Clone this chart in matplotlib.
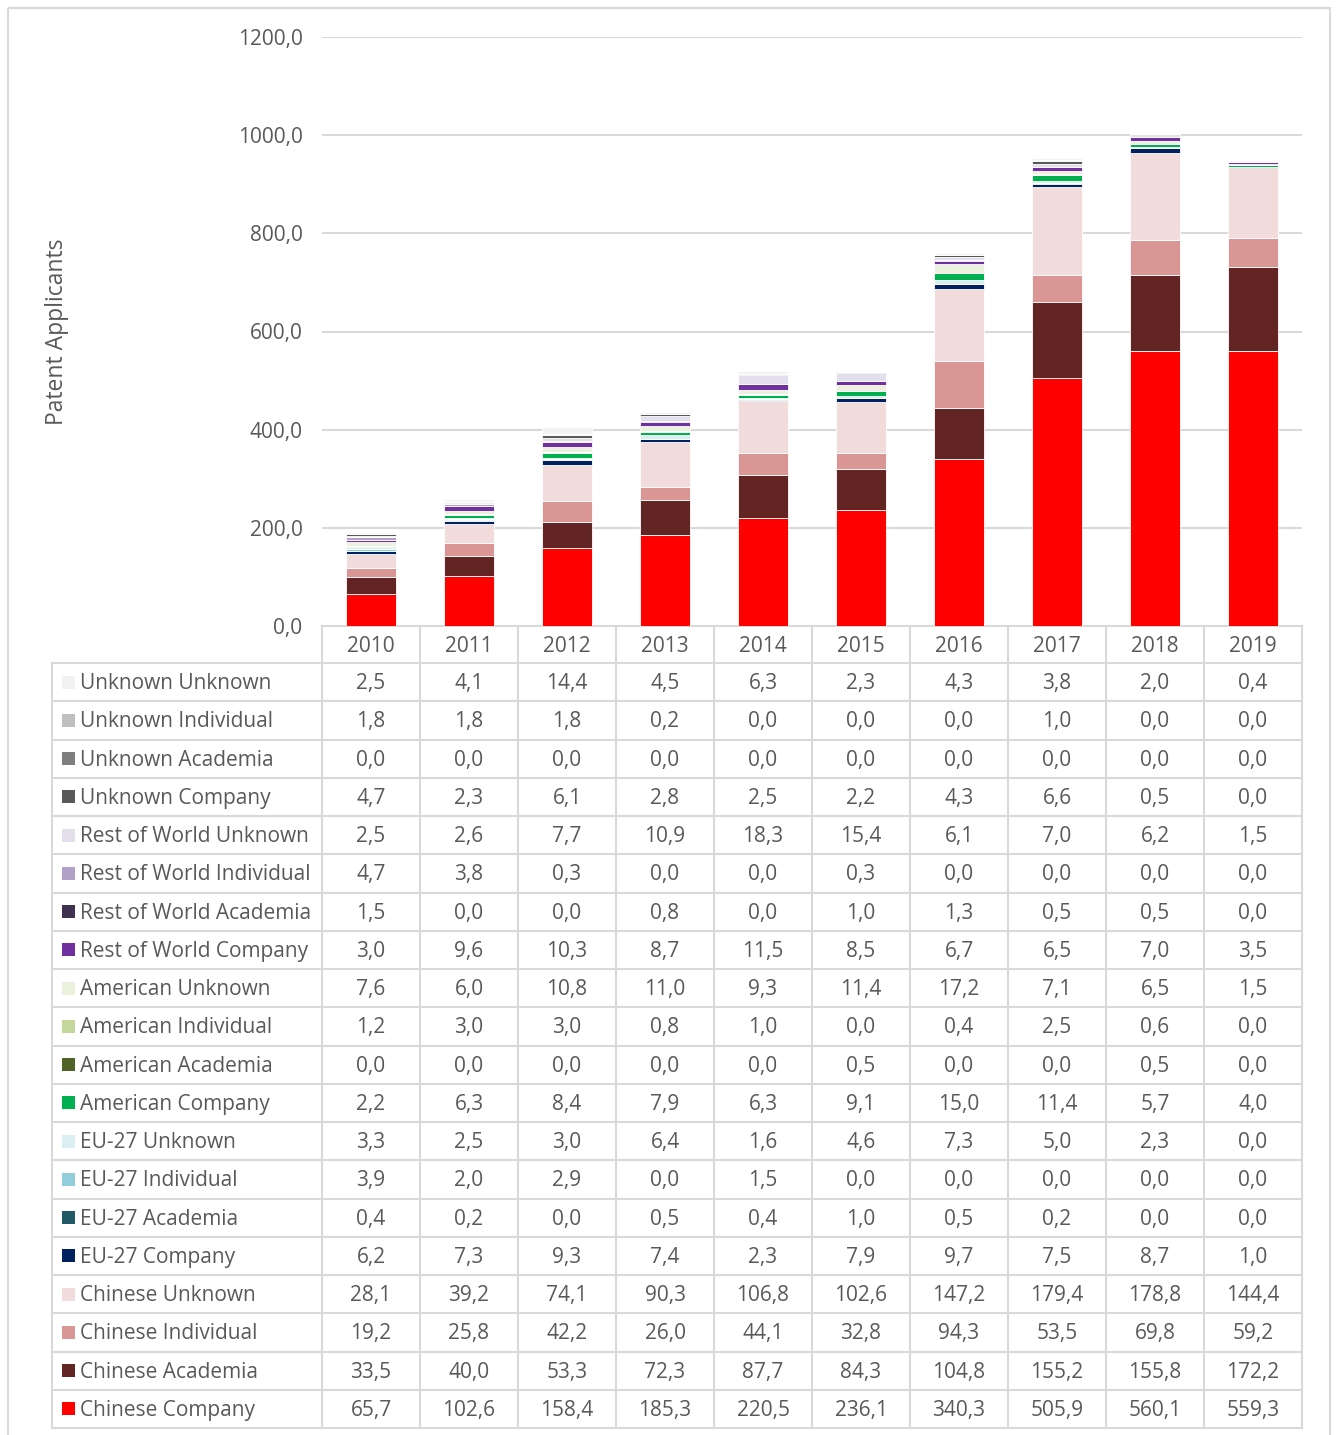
import matplotlib
matplotlib.use("Agg")
import matplotlib.pyplot as plt
from matplotlib.patches import Rectangle

plt.rcParams['font.family'] = ['Open Sans', 'DejaVu Sans']

years = ["2010", "2011", "2012", "2013", "2014", "2015", "2016", "2017", "2018", "2019"]

# Series, listed as in the table (top to bottom); stacked bottom-up in reverse order
series_names = [
    "Unknown Unknown", "Unknown Individual", "Unknown Academia", "Unknown Company",
    "Rest of World Unknown", "Rest of World Individual", "Rest of World Academia", "Rest of World Company",
    "American Unknown", "American Individual", "American Academia", "American Company",
    "EU-27 Unknown", "EU-27 Individual", "EU-27 Academia", "EU-27 Company",
    "Chinese Unknown", "Chinese Individual", "Chinese Academia", "Chinese Company",
]

unknown_unknown = [2.5, 4.1, 14.4, 4.5, 6.3, 2.3, 4.3, 3.8, 2.0, 0.4]
unknown_individual = [1.8, 1.8, 1.8, 0.2, 0.0, 0.0, 0.0, 1.0, 0.0, 0.0]
unknown_academia = [0.0, 0.0, 0.0, 0.0, 0.0, 0.0, 0.0, 0.0, 0.0, 0.0]
unknown_company = [4.7, 2.3, 6.1, 2.8, 2.5, 2.2, 4.3, 6.6, 0.5, 0.0]
row_unknown = [2.5, 2.6, 7.7, 10.9, 18.3, 15.4, 6.1, 7.0, 6.2, 1.5]
row_individual = [4.7, 3.8, 0.3, 0.0, 0.0, 0.3, 0.0, 0.0, 0.0, 0.0]
row_academia = [1.5, 0.0, 0.0, 0.8, 0.0, 1.0, 1.3, 0.5, 0.5, 0.0]
row_company = [3.0, 9.6, 10.3, 8.7, 11.5, 8.5, 6.7, 6.5, 7.0, 3.5]
american_unknown = [7.6, 6.0, 10.8, 11.0, 9.3, 11.4, 17.2, 7.1, 6.5, 1.5]
american_individual = [1.2, 3.0, 3.0, 0.8, 1.0, 0.0, 0.4, 2.5, 0.6, 0.0]
american_academia = [0.0, 0.0, 0.0, 0.0, 0.0, 0.5, 0.0, 0.0, 0.5, 0.0]
american_company = [2.2, 6.3, 8.4, 7.9, 6.3, 9.1, 15.0, 11.4, 5.7, 4.0]
eu_unknown = [3.3, 2.5, 3.0, 6.4, 1.6, 4.6, 7.3, 5.0, 2.3, 0.0]
eu_individual = [3.9, 2.0, 2.9, 0.0, 1.5, 0.0, 0.0, 0.0, 0.0, 0.0]
eu_academia = [0.4, 0.2, 0.0, 0.5, 0.4, 1.0, 0.5, 0.2, 0.0, 0.0]
eu_company = [6.2, 7.3, 9.3, 7.4, 2.3, 7.9, 9.7, 7.5, 8.7, 1.0]
chinese_unknown = [28.1, 39.2, 74.1, 90.3, 106.8, 102.6, 147.2, 179.4, 178.8, 144.4]
chinese_individual = [19.2, 25.8, 42.2, 26.0, 44.1, 32.8, 94.3, 53.5, 69.8, 59.2]
chinese_academia = [33.5, 40.0, 53.3, 72.3, 87.7, 84.3, 104.8, 155.2, 155.8, 172.2]
chinese_company = [65.7, 102.6, 158.4, 185.3, 220.5, 236.1, 340.3, 505.9, 560.1, 559.3]

series_values = [
    unknown_unknown, unknown_individual, unknown_academia, unknown_company,
    row_unknown, row_individual, row_academia, row_company,
    american_unknown, american_individual, american_academia, american_company,
    eu_unknown, eu_individual, eu_academia, eu_company,
    chinese_unknown, chinese_individual, chinese_academia, chinese_company,
]

colors = [
    "#F2F2F2", "#BFBFBF", "#7F7F7F", "#595959",
    "#E4DFEC", "#B1A0C7", "#403151", "#7030A0",
    "#EBF1DE", "#C4D79B", "#4F6228", "#00B050",
    "#DAEEF3", "#92CDDC", "#215967", "#002060",
    "#F2DCDB", "#DA9694", "#632523", "#FF0000",
]

W, H = 1336, 1435
fig = plt.figure(figsize=(W / 100, H / 100), dpi=100)
TXT = "#595959"
GRID = "#D9D9D9"
FS = 15

# Overlay axes in pixel coordinates for frame and table
ov = fig.add_axes([0, 0, 1, 1])
ov.set_xlim(0, W)
ov.set_ylim(H, 0)
ov.axis("off")
ov.add_patch(Rectangle((8, 8), 1322, 1440, fill=False, edgecolor=GRID, lw=1.5))

# Bar chart axes
x0, x1 = 322, 1302
y_top, y_bot = 37, 626
ax = fig.add_axes([x0 / W, (H - y_bot) / H, (x1 - x0) / W, (y_bot - y_top) / H])
xs = list(range(len(years)))
bottom = [0.0] * len(years)
for name, vals, col in reversed(list(zip(series_names, series_values, colors))):
    ax.bar(xs, vals, width=0.52, bottom=bottom, color=col, edgecolor="white", linewidth=0.6, zorder=3)
    bottom = [b + v for b, v in zip(bottom, vals)]
ax.set_xlim(-0.5, len(years) - 0.5)
ax.set_ylim(0, 1200)
ax.set_yticks(range(0, 1201, 200))
ax.set_yticklabels([f"{v:.1f}".replace(".", ",") for v in range(0, 1201, 200)])
ax.tick_params(axis="y", length=0, pad=14, labelsize=FS, labelcolor=TXT)
ax.set_xticks([])
ax.grid(axis="y", color=GRID, lw=1.5, zorder=0)
for s in ["top", "right", "left", "bottom"]:
    ax.spines[s].set_visible(False)
ax.set_ylabel("Patent Applicants", fontsize=16.5, color=TXT, labelpad=0)
ax.yaxis.set_label_coords(-(322 - 69) / (x1 - x0), 0.5)

# Table
lab_x0 = 52
col_w = (x1 - x0) / len(years)
hdr_top, hdr_bot = 626, 663
row_h = (1428 - 663) / len(series_names)
tbl_bot = hdr_bot + row_h * len(series_names)
lw = 1.5
dy = 1.5
ov.plot([x0, x1], [hdr_top, hdr_top], color=GRID, lw=lw)
for i in range(len(years) + 1):
    xx = x0 + i * col_w
    ov.plot([xx, xx], [hdr_top, tbl_bot], color=GRID, lw=lw)
ov.plot([lab_x0, lab_x0], [hdr_bot, tbl_bot], color=GRID, lw=lw)
for r in range(len(series_names) + 1):
    yy = hdr_bot + r * row_h
    ov.plot([lab_x0, x1], [yy, yy], color=GRID, lw=lw)
for i, yr in enumerate(years):
    ov.text(x0 + (i + 0.5) * col_w, (hdr_top + hdr_bot) / 2 + dy, yr, ha="center", va="center",
            fontsize=FS, color=TXT)
for r, (name, vals, col) in enumerate(zip(series_names, series_values, colors)):
    yc = hdr_bot + (r + 0.5) * row_h
    ov.add_patch(Rectangle((62, yc - 6.5), 13, 13, facecolor=col, edgecolor="none"))
    ov.text(80, yc + dy, name, ha="left", va="center", fontsize=FS, color=TXT)
    for i, v in enumerate(vals):
        ov.text(x0 + (i + 0.5) * col_w, yc + dy, f"{v:.1f}".replace(".", ","), ha="center", va="center",
                fontsize=FS, color=TXT)

fig.savefig("out.png", dpi=100)
